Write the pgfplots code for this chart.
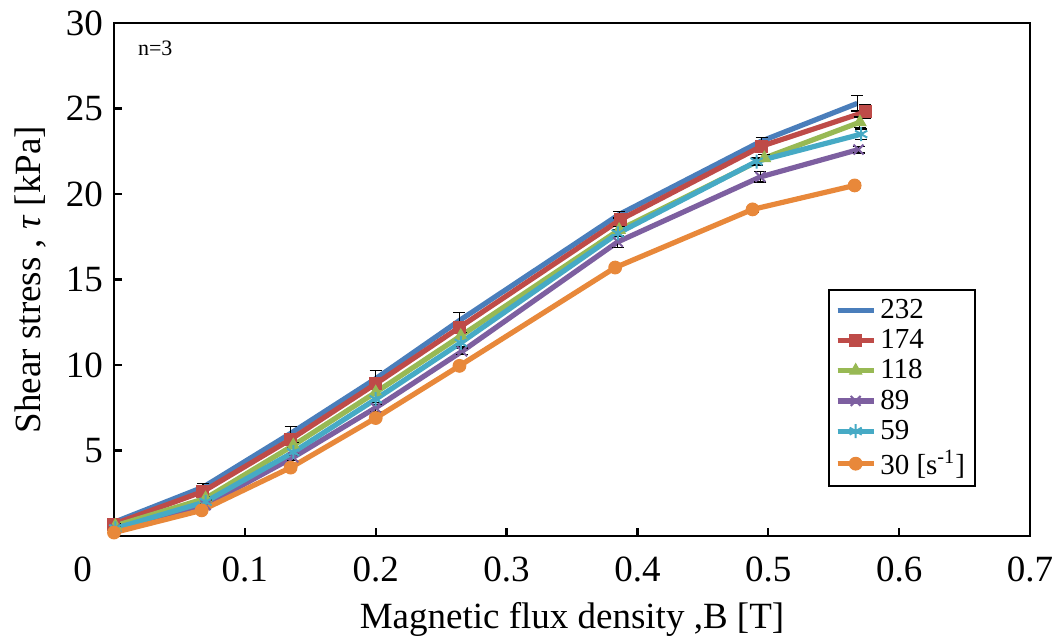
\documentclass[border=0pt]{standalone}
\usepackage{pgfplots}
\pgfplotsset{compat=1.18}
\usepackage{fontspec}
\setmainfont{Liberation Serif}
\definecolor{cblue}{HTML}{4A7EBB}
\definecolor{cred}{HTML}{BE4B48}
\definecolor{cgreen}{HTML}{98B954}
\definecolor{cpurple}{HTML}{7D5FA0}
\definecolor{ccyan}{HTML}{46AAC5}
\definecolor{corange}{HTML}{E8883A}
\begin{document}
\begin{tikzpicture}
\begin{axis}[
  name=ax,
  scale only axis,
  width=458pt, height=256.5pt,
  xmin=0, xmax=0.7, ymin=0, ymax=30,
  xtick={0,0.1,0.2,0.3,0.4,0.5,0.6,0.7},
  xticklabels={\llap{0\kern11pt},0.1,0.2,0.3,0.4,0.5,0.6,0.7},
  ytick={5,10,15,20,25,30},
  tick align=inside,
  xtick pos=bottom, ytick pos=left,
  major tick length=4pt,
  axis line style={line width=1.2pt},
  tick style={line width=1.2pt, black},
  /pgf/number format/assume math mode=true,
  tick label style={font=\fontsize{18.5}{21}\selectfont},
  xticklabel style={yshift=-7pt},
  yticklabel style={xshift=-2pt},
  xlabel={Magnetic flux density ,B [T]},
  ylabel={Shear stress , \textit{τ}  [kPa]},
  label style={font=\fontsize{18.5}{21}\selectfont},
  xlabel style={yshift=-3.5pt},
  ylabel style={yshift=3pt},
  legend style={at={(0.941,0.0955)}, anchor=south east, draw=black, line width=0.9pt,
    font=\fontsize{14.5}{14.5}\selectfont, row sep=0pt, inner sep=2.5pt,
    inner xsep=3pt, nodes={inner sep=2pt},
    cells={anchor=west}},
  legend cell align=left,
  legend image code/.code={\draw[#1,line width=2.5pt] (0pt,0pt) -- (18pt,0pt); \draw[#1,mark repeat=2,mark phase=2] plot coordinates {(0pt,0pt) (9pt,0pt) (18pt,0pt)};},
  every axis plot/.append style={line width=2.6pt},
  error bars/error bar style={black, line width=0.6pt},
  error bars/error mark options={rotate=90, mark size=3pt, black, line width=0.6pt},
  clip=false,
]
\addplot[cblue, no marks, error bars/.cd, y dir=both, y explicit] coordinates {
 (0.0,0.8) +- (0,0.1) (0.068,2.85) +- (0,0.2) (0.135,6.0) +- (0,0.4) (0.200,9.2) +- (0,0.5)
 (0.264,12.6) +- (0,0.45) (0.386,18.8) +- (0,0.2) (0.495,23.1) +- (0,0.2) (0.568,25.3) +- (0,0.45)};
\addlegendentry{232}
\addplot[cred, mark=square*, mark size=3pt, mark options={line width=0.5pt}, error bars/.cd, y dir=both, y explicit] coordinates {
 (0.0,0.7) +- (0,0.1) (0.068,2.6) +- (0,0.1) (0.135,5.65) +- (0,0.2) (0.2,8.9) +- (0,0.2)
 (0.264,12.2) +- (0,0.3) (0.387,18.5) +- (0,0.3) (0.495,22.8) +- (0,0.2) (0.574,24.8) +- (0,0.4)};
\addlegendentry{174}
\addplot[cgreen, mark=triangle*, mark size=3.5pt, mark options={line width=0.5pt}, error bars/.cd, y dir=both, y explicit] coordinates {
 (0.001,0.6) +- (0,0.1) (0.07,2.2) +- (0,0.1) (0.137,5.3) +- (0,0.15) (0.2,8.4) +- (0,0.2)
 (0.265,11.7) +- (0,0.2) (0.386,17.9) +- (0,0.2) (0.497,22.1) +- (0,0.2) (0.570,24.2) +- (0,0.3)};
\addlegendentry{118}
\addplot[cpurple, mark=x, mark size=3.5pt, mark options={line width=1pt}, error bars/.cd, y dir=both, y explicit] coordinates {
 (0.001,0.4) +- (0,0.1) (0.07,1.8) +- (0,0.1) (0.137,4.6) +- (0,0.2) (0.2,7.5) +- (0,0.2)
 (0.266,10.8) +- (0,0.2) (0.385,17.2) +- (0,0.35) (0.494,21.0) +- (0,0.3) (0.569,22.6) +- (0,0.2)};
\addlegendentry{89}
\addplot[ccyan, mark=asterisk, mark size=3.5pt, mark options={line width=1pt}, error bars/.cd, y dir=both, y explicit] coordinates {
 (0.001,0.45) +- (0,0.1) (0.07,2.0) +- (0,0.1) (0.137,4.9) +- (0,0.2) (0.2,8.0) +- (0,0.2)
 (0.265,11.3) +- (0,0.2) (0.385,17.7) +- (0,0.2) (0.491,21.9) +- (0,0.2) (0.571,23.5) +- (0,0.3)};
\addlegendentry{59}
\addplot[corange, mark=*, mark size=3.2pt, mark options={line width=0.5pt}, error bars/.cd, y dir=both, y explicit] coordinates {
 (0.0,0.2) +- (0,0.05) (0.067,1.5) +- (0,0.1) (0.135,4.0) +- (0,0.1) (0.2,6.9) +- (0,0.1)
 (0.264,9.95) +- (0,0.15) (0.383,15.7) +- (0,0.1) (0.488,19.1) +- (0,0.15) (0.566,20.5) +- (0,0.15)};
\addlegendentry{30 [s\textsuperscript{-1}]}
\node[anchor=center, font=\fontsize{11}{13}\selectfont] at (rel axis cs:0.045,0.951) {n=3};
\end{axis}
\pgfresetboundingbox
\path ([shift={(-57pt,-51pt)}]ax.south west) rectangle ([shift={(474pt,268pt)}]ax.south west);
\end{tikzpicture}
\end{document}
